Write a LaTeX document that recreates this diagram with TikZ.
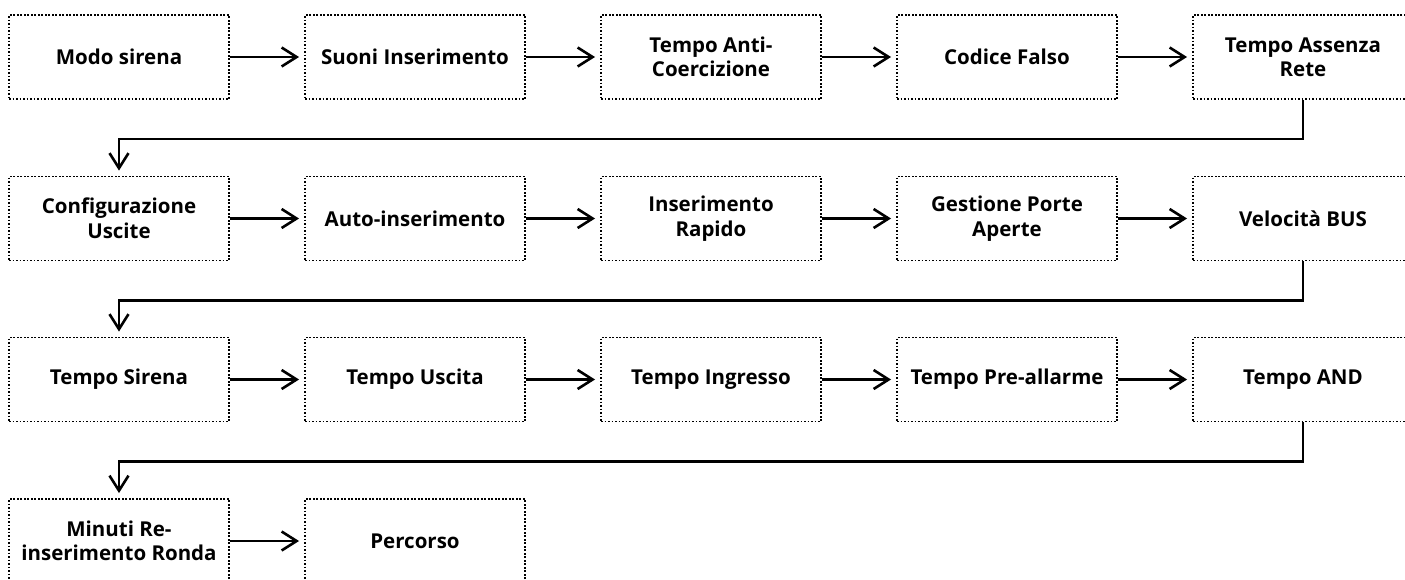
\documentclass[tikz,border=0pt]{standalone}
\usepackage{fontspec}
\setmainfont{Open Sans}
\usetikzlibrary{arrows.meta}
\begin{document}
\begin{tikzpicture}[x=1pt,y=-1pt,
  box/.style={draw, line width=1.9pt, dash pattern=on 1.9pt off 1.6pt,
    minimum width=220pt, minimum height=84pt, inner sep=0pt, align=center,
    font=\fontsize{20.5}{24.5}\selectfont\bfseries},
  conn/.style={line width=2.6pt, -{Straight Barb[length=15pt,width=19pt]}, shorten >=5pt}]
\useasboundingbox (0,0) rectangle (1405,579);
\clip (0,0) rectangle (1405,579);
% row 1
\node[box] (r1c1) at (119,57) {Modo sirena};
\node[box] (r1c2) at (415,57) {Suoni Inserimento};
\node[box] (r1c3) at (711,57) {Tempo Anti-\\Coercizione};
\node[box] (r1c4) at (1007,57) {Codice Falso};
\node[box] (r1c5) at (1303,57) {Tempo Assenza\\Rete};
% row 2
\node[box] (r2c1) at (119,218.5) {Configurazione\\Uscite};
\node[box] (r2c2) at (415,218.5) {Auto-inserimento};
\node[box] (r2c3) at (711,218.5) {Inserimento\\Rapido};
\node[box] (r2c4) at (1007,218.5) {Gestione Porte\\Aperte};
\node[box] (r2c5) at (1303,218.5) {Velocità BUS};
% row 3
\node[box] (r3c1) at (119,379.5) {Tempo Sirena};
\node[box] (r3c2) at (415,379.5) {Tempo Uscita};
\node[box] (r3c3) at (711,379.5) {Tempo Ingresso};
\node[box] (r3c4) at (1007,379.5) {Tempo Pre-allarme};
\node[box] (r3c5) at (1303,379.5) {Tempo AND};
% row 4
\node[box] (r4c1) at (119,541) {Minuti Re-\\inserimento Ronda};
\node[box] (r4c2) at (415,541) {Percorso};
% horizontal connectors
\foreach \r in {1,2,3}{
  \foreach \a/\b in {1/2,2/3,3/4,4/5}{
    \draw[conn] (r\r c\a.east) -- (r\r c\b.west);
  }
}
\draw[conn] (r4c1.east) -- (r4c2.west);
% row-to-row connectors
\draw[conn] (r1c5.south) -- ++(0,39) -| (r2c1.north);
\draw[conn] (r2c5.south) -- ++(0,39) -| (r3c1.north);
\draw[conn] (r3c5.south) -- ++(0,39) -| (r4c1.north);
\end{tikzpicture}
\end{document}
